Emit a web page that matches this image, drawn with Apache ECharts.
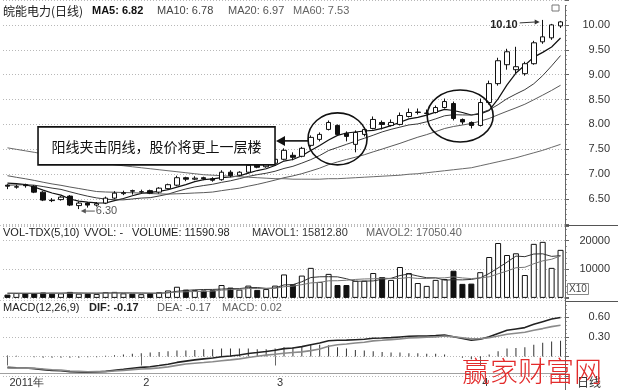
<!DOCTYPE html>
<html>
<head>
<meta charset="utf-8">
<script src="https://cdn.jsdelivr.net/npm/echarts@6/dist/echarts.min.js"></script>
<style>
  html, body { margin: 0; padding: 0; background: #fff; }
  #chart { width: 618px; height: 390px; }
</style>
</head>
<body>
<div id="chart"></div>
<script>
// 皖能电力 daily bars, 2011-01-11 .. 2011-04-18
const dates = [
  '2011-01-11','2011-01-12','2011-01-13','2011-01-14','2011-01-17','2011-01-18','2011-01-19','2011-01-20',
  '2011-01-21','2011-01-24','2011-01-25','2011-01-26','2011-01-27','2011-01-28','2011-01-31',
  '2011-02-01','2011-02-09','2011-02-10','2011-02-11','2011-02-14','2011-02-15','2011-02-16','2011-02-17',
  '2011-02-18','2011-02-21','2011-02-22','2011-02-23','2011-02-24','2011-02-25','2011-02-28',
  '2011-03-01','2011-03-02','2011-03-03','2011-03-04','2011-03-07','2011-03-08','2011-03-09','2011-03-10',
  '2011-03-11','2011-03-14','2011-03-15','2011-03-16','2011-03-17','2011-03-18','2011-03-21','2011-03-22',
  '2011-03-23','2011-03-24','2011-03-25','2011-03-28','2011-03-29','2011-03-30','2011-03-31',
  '2011-04-01','2011-04-06','2011-04-07','2011-04-08','2011-04-11','2011-04-12','2011-04-13','2011-04-14',
  '2011-04-15','2011-04-18'
];

const open = [6.78,6.74,6.79,6.76,6.64,6.48,6.49,6.56,6.37,6.42,6.38,6.42,6.52,6.61,6.67,6.64,6.67,6.64,6.71,6.78,
  6.93,6.90,6.93,6.91,6.89,7.04,6.98,7.04,7.18,7.15,7.22,7.30,7.38,7.36,7.58,7.70,7.90,7.98,7.82,7.60,
  7.80,7.92,8.04,7.98,8.00,8.16,8.24,8.22,8.24,8.34,8.42,8.10,8.04,7.98,8.44,8.82,9.20,9.10,9.02,9.22,
  9.66,9.74,9.98];
const close = [6.76,6.75,6.77,6.64,6.48,6.47,6.54,6.38,6.42,6.38,6.41,6.52,6.62,6.63,6.66,6.65,6.62,6.72,6.79,6.93,
  6.90,6.92,6.91,6.88,7.04,6.97,7.04,7.18,7.14,7.22,7.30,7.48,7.34,7.52,7.74,7.80,8.04,7.80,7.76,7.84,
  7.90,8.10,8.00,8.04,8.18,8.24,8.25,8.23,8.34,8.46,8.12,8.05,7.98,8.44,8.82,9.28,9.46,9.16,9.22,9.64,
  9.76,10.00,10.06];
const low = [6.70,6.71,6.73,6.62,6.46,6.44,6.47,6.36,6.30,6.33,6.35,6.40,6.50,6.58,6.59,6.61,6.60,6.61,6.69,6.76,
  6.86,6.88,6.88,6.85,6.87,6.94,6.96,7.02,7.12,7.13,7.20,7.28,7.28,7.34,7.55,7.66,7.88,7.78,7.66,7.44,
  7.76,7.90,7.90,7.96,7.98,8.14,8.20,8.20,8.22,8.32,8.08,8.00,7.92,7.96,8.40,8.78,9.10,9.02,8.98,9.20,
  9.62,9.70,9.94];
const high = [6.80,6.79,6.81,6.78,6.66,6.52,6.56,6.58,6.45,6.44,6.44,6.55,6.66,6.67,6.69,6.69,6.69,6.74,6.81,6.97,
  6.95,6.96,6.95,6.94,7.08,7.08,7.06,7.21,7.22,7.25,7.33,7.52,7.44,7.55,7.78,7.84,8.08,8.00,7.86,7.88,
  7.94,8.16,8.08,8.10,8.24,8.32,8.32,8.30,8.38,8.52,8.46,8.12,8.06,8.52,8.88,9.34,9.52,9.56,9.26,9.68,
  10.10,10.02,10.08];

const ma5 = [6.82,6.81,6.792,6.744,6.68,6.622,6.58,6.502,6.458,6.438,6.426,6.422,6.47,6.512,6.568,6.616,6.636,6.656,
  6.688,6.742,6.792,6.852,6.89,6.908,6.93,6.944,6.968,7.022,7.074,7.11,7.176,7.264,7.296,7.372,7.476,7.576,
  7.688,7.78,7.828,7.848,7.868,7.88,7.92,7.976,8.044,8.112,8.142,8.188,8.248,8.304,8.28,8.24,8.19,8.21,
  8.282,8.514,8.796,9.032,9.188,9.352,9.448,9.556,9.736];
const ma10 = [6.78,6.785,6.79,6.78,6.752,6.721,6.695,6.647,6.601,6.559,6.524,6.501,6.486,6.485,6.503,6.521,6.529,
  6.563,6.6,6.655,6.704,6.744,6.773,6.798,6.836,6.868,6.91,6.956,6.991,7.02,7.06,7.116,7.159,7.223,7.293,
  7.376,7.476,7.538,7.6,7.662,7.722,7.784,7.85,7.902,7.946,7.99,8.011,8.054,8.112,8.174,8.196,8.191,8.189,
  8.229,8.293,8.397,8.518,8.611,8.699,8.817,8.981,9.176,9.384];
const ma20 = [6.97,6.938,6.909,6.876,6.839,6.805,6.777,6.743,6.713,6.682,6.652,6.643,6.638,6.633,6.628,6.621,6.612,
  6.605,6.601,6.607,6.614,6.623,6.63,6.642,6.67,6.695,6.72,6.76,6.796,6.838,6.882,6.93,6.966,7.011,7.065,
  7.122,7.193,7.247,7.296,7.341,7.391,7.45,7.505,7.563,7.62,7.683,7.744,7.796,7.856,7.918,7.959,7.988,8.02,
  8.066,8.12,8.194,8.265,8.333,8.406,8.496,8.589,8.684,8.787];
const ma60 = [7.53,7.50,7.47,7.44,7.41,7.38,7.35,7.32,7.29,7.26,7.23,7.21,7.19,7.17,7.15,7.13,7.11,7.09,7.07,7.05,
  7.03,7.01,6.99,6.98,6.97,6.96,6.95,6.94,6.93,6.92,6.91,6.91,6.90,6.90,6.90,6.90,6.91,6.91,6.92,6.93,
  6.94,6.95,6.96,6.97,6.98,7.00,7.01,7.03,7.05,7.07,7.09,7.11,7.13,7.17,7.21,7.25,7.29,7.33,7.38,7.43,
  7.48,7.54,7.60];

// volume is plotted in units of 10 (the scale shows X10)
const volScale = 10;
const volume = [1159.098,1700,1600,1700,1900,1500,1600,2100,1500,1600,1400,2000,2100,1600,1500,1300,1700,2000,2600,
  3900,2900,2700,2600,2700,4500,3600,2900,4300,2800,3100,4300,8200,4800,7800,10500,5600,8400,4500,4500,
  6000,6000,8700,7300,6300,10800,8700,5200,4200,6300,6600,9500,4900,5000,9000,14300,19200,15000,15600,
  8000,18900,19600,10500,16800];
const mavol1 = [1581.28,1581,1571,1567,1612,1680,1660,1760,1720,1660,1640,1720,1720,1740,1720,1700,1640,1620,1820,
  2300,2620,2820,2940,2960,3080,3220,3260,3600,3620,3340,3480,4540,4640,5640,7120,7380,7420,7360,6700,
  5800,5880,5940,6500,6860,7820,8360,7660,7040,7040,6200,6360,6300,6460,7000,8540,10480,12500,14620,
  14420,15340,15420,14520,14760];
const mavol2 = [1705.04,1685,1665,1650,1660,1631,1621,1666,1644,1636,1660,1690,1740,1730,1690,1670,1680,1670,1780,
  2010,2160,2230,2280,2390,2690,2920,3040,3270,3290,3210,3350,3900,4120,4630,5230,5430,5980,6000,6170,
  6460,6630,6680,6930,6780,6810,7120,6800,6770,6950,7010,7360,6980,6750,7020,7370,8420,9400,10540,
  10710,11940,12950,13510,14690];

const dif = [-0.166,-0.172,-0.175,-0.185,-0.200,-0.212,-0.218,-0.230,-0.235,-0.238,-0.236,-0.226,-0.210,-0.196,
  -0.180,-0.166,-0.155,-0.138,-0.118,-0.090,-0.070,-0.052,-0.036,-0.024,-0.004,0.008,0.024,0.046,0.060,
  0.076,0.094,0.120,0.130,0.150,0.180,0.205,0.240,0.248,0.250,0.256,0.262,0.278,0.282,0.287,0.298,0.308,
  0.312,0.312,0.318,0.326,0.300,0.275,0.248,0.262,0.300,0.352,0.400,0.420,0.440,0.490,0.530,0.570,0.595];
const dea = [-0.174,-0.177,-0.175,-0.180,-0.190,-0.202,-0.208,-0.220,-0.225,-0.233,-0.231,-0.231,-0.220,-0.211,
  -0.200,-0.191,-0.185,-0.173,-0.158,-0.135,-0.115,-0.102,-0.091,-0.079,-0.064,-0.052,-0.036,-0.014,0.005,
  0.021,0.034,0.050,0.060,0.070,0.090,0.115,0.155,0.178,0.190,0.206,0.217,0.238,0.247,0.257,0.268,0.283,
  0.287,0.292,0.298,0.311,0.300,0.285,0.268,0.272,0.285,0.312,0.340,0.355,0.370,0.400,0.425,0.455,0.475];
const macd = [0.016,0.01,0.00,-0.01,-0.02,-0.02,-0.02,-0.02,-0.02,-0.01,-0.01,0.01,0.02,0.03,0.04,0.05,0.06,0.07,
  0.08,0.09,0.09,0.10,0.11,0.11,0.12,0.12,0.12,0.12,0.11,0.11,0.12,0.14,0.14,0.16,0.18,0.18,0.17,0.14,0.12,
  0.10,0.09,0.08,0.07,0.06,0.06,0.05,0.05,0.04,0.04,0.03,0.00,-0.02,-0.04,-0.02,0.03,0.08,0.12,0.13,0.14,
  0.18,0.21,0.23,0.24];

// labelled ticks on the right-hand scales
const priceTicks = [6.5, 7, 7.5, 8, 8.5, 9, 9.5, 10];
const volTicks = [10000, 20000];
const macdTicks = [0.3, 0.6];

const LAT = '"Liberation Sans", Arial, sans-serif';
const CJK = '"Noto Sans CJK SC", sans-serif';

const hasTick = (list, v) => list.some(t => Math.abs(t - v) < 1e-6);
const monthStart = (i) => i === 0 || dates[i].slice(5, 7) !== dates[i - 1].slice(5, 7);

const candleData = dates.map((d, i) => [open[i], close[i], low[i], high[i]]);
const upStyle = { color: '#fff', borderColor: '#111', borderWidth: 1 };
const downStyle = { color: '#111', borderColor: '#111', borderWidth: 1 };
const volData = volume.map((v, i) => ({ value: v, itemStyle: close[i] < open[i] ? downStyle : upStyle }));

const L = 3, R = 53;
const grids = [
  { left: L, right: R, top: 0, height: 224 },
  { left: L, right: R, top: 226.4, height: 71.5 },
  { left: L, right: R, top: 297.4, height: 78.8 }
];

function xAxisFor(idx) {
  const last = idx === 2;
  return {
    type: 'category', gridIndex: idx, data: dates, boundaryGap: true,
    axisLine: { show: false },
    axisTick: {
      show: last, alignWithLabel: true, length: 9, lineStyle: { color: '#666' },
      interval: monthStart
    },
    axisLabel: {
      show: last, margin: 1, align: 'left', padding: [0, 0, 0, 2],
      color: '#333', fontSize: 11, fontFamily: LAT,
      interval: monthStart,
      formatter: (v, i) => i === 0 ? v.slice(0, 4) + '年' : String(+v.slice(5, 7))
    },
    splitLine: { show: false }
  };
}

function yAxisFor(idx, cfg, ticks, fmt) {
  return Object.assign({
    type: 'value', gridIndex: idx, position: 'right', scale: false,
    axisLine: { show: false },
    axisTick: { show: true, length: 4, lineStyle: { color: '#666' } },
    minorTick: { show: true, splitNumber: 5, length: 2, lineStyle: { color: '#999' } },
    axisLabel: {
      margin: 45, align: 'right', color: '#333', fontSize: 11, fontFamily: LAT,
      formatter: (v) => hasTick(ticks, v) ? fmt(v) : ''
    },
    splitLine: { show: true, lineStyle: { type: [1, 2], color: '#b8b8b8', width: 1 } }
  }, cfg);
}

const lineSeries = (name, data, xi, color, width) => ({
  name, type: 'line', data, xAxisIndex: xi, yAxisIndex: xi,
  showSymbol: false, symbol: 'none', silent: true,
  lineStyle: { color, width }, z: 3
});

const option = {
  animation: false,
  backgroundColor: '#fff',
  grid: grids,
  xAxis: [xAxisFor(0), xAxisFor(1), xAxisFor(2)],
  yAxis: [
    yAxisFor(0, { min: 6, max: 10.5, interval: 0.5 }, priceTicks, v => v.toFixed(2)),
    yAxisFor(1, { min: 0, max: 25000, interval: 10000 }, volTicks, v => String(v)),
    yAxisFor(2, { min: -0.3, max: 0.9, interval: 0.3 }, macdTicks, v => v.toFixed(2))
  ],
  series: [
    {
      name: 'K', type: 'candlestick', data: candleData, xAxisIndex: 0, yAxisIndex: 0,
      barWidth: 5, silent: true, z: 4,
      itemStyle: { color: '#fff', color0: '#111', borderColor: '#111', borderColor0: '#111', borderWidth: 1 }
    },
    lineSeries('MA5', ma5, 0, '#111', 1.2),
    lineSeries('MA10', ma10, 0, '#3a3a3a', 1),
    lineSeries('MA20', ma20, 0, '#5a5a5a', 1),
    lineSeries('MA60', ma60, 0, '#6a6a6a', 1),
    {
      name: 'VOL', type: 'bar', data: volData, xAxisIndex: 1, yAxisIndex: 1,
      barWidth: 6, silent: true, z: 2
    },
    lineSeries('MAVOL1', mavol1, 1, '#333', 1),
    lineSeries('MAVOL2', mavol2, 1, '#777', 1),
    {
      name: 'MACD', type: 'bar', data: macd, xAxisIndex: 2, yAxisIndex: 2,
      barWidth: 1, silent: true, itemStyle: { color: '#333' }, z: 2
    },
    lineSeries('DIF', dif, 2, '#222', 1.6),
    lineSeries('DEA', dea, 2, '#8a8a8a', 1.6)
  ]
};

const chart = echarts.init(document.getElementById('chart'), null, { renderer: 'canvas' });
chart.setOption(option);

// ---- annotations and panel headers ----
const px = (g, i, v) => chart.convertToPixel({ gridIndex: g }, [i, v]);
const W = 618, AX = 565;
const g = [];

function txt(x, y, text, style) {
  g.push({ type: 'text', x, y, silent: true, z: 20,
    style: Object.assign({ text, fontFamily: LAT, fontSize: 11, fill: '#111', verticalAlign: 'middle' }, style) });
}
function seg(x1, y1, x2, y2, stroke, w, dash) {
  g.push({ type: 'line', silent: true, z: 15,
    shape: { x1, y1, x2, y2 }, style: { stroke, lineWidth: w || 1, lineDash: dash || null } });
}

// panel separators, bottom rule and right scale line
seg(0, 225.5, AX, 225.5, '#c4c4c4', 1, [1, 2]);
seg(0, 300.5, AX, 300.5, '#c4c4c4', 1, [1, 2]);
seg(0, 373.5, AX, 373.5, '#a0a0a0', 1);
seg(AX, 225.5, W, 225.5, '#555', 1);
seg(AX, 301.5, W, 301.5, '#555', 1);
seg(AX + 0.5, 5, AX + 0.5, 390, '#666', 1);
g.push({ type: 'rect', silent: true, z: 15, shape: { x: 552, y: 5, width: 7, height: 6 },
  style: { fill: '#fff', stroke: '#777', lineWidth: 1 } });

// headers
const f2 = v => v.toFixed(2);
txt(3, 11, '皖能电力(日线)', { fontFamily: CJK, fontSize: 12, fill: '#222' });
txt(92, 11, 'MA5: ' + f2(ma5[0]), { fontWeight: 'bold', fill: '#111' });
txt(157, 11, 'MA10: ' + f2(ma10[0]), { fill: '#444' });
txt(228, 11, 'MA20: ' + f2(ma20[0]), { fill: '#555' });
txt(293, 11, 'MA60: ' + f2(ma60[0]), { fill: '#666' });

txt(3, 233, 'VOL-TDX(5,10)', { fill: '#222' });
txt(84, 233, 'VVOL: -', { fill: '#222' });
txt(132, 233, 'VOLUME: ' + f2(volume[0] * volScale), { fill: '#222' });
txt(252, 233, 'MAVOL1: ' + f2(mavol1[0] * volScale), { fill: '#333' });
txt(366, 233, 'MAVOL2: ' + f2(mavol2[0] * volScale), { fill: '#666' });

txt(3, 308, 'MACD(12,26,9)', { fill: '#222' });
txt(89, 308, 'DIF: ' + f2(dif[0]), { fontWeight: 'bold', fill: '#222' });
txt(157, 308, 'DEA: ' + f2(dea[0]), { fill: '#555' });
txt(222, 308, 'MACD: ' + f2(macd[0]), { fill: '#666' });

// volume scale marker
g.push({ type: 'rect', silent: true, z: 15, shape: { x: 567.5, y: 283.5, width: 21, height: 11 },
  style: { fill: '#fff', stroke: '#888', lineWidth: 1 } });
txt(578, 289.5, 'X' + volScale, { fontSize: 10, fill: '#444', align: 'center' });
txt(577, 382, '日线', { fontFamily: CJK, fontSize: 12, fill: '#333' });

// lowest low marker
const iLow = low.indexOf(Math.min(...low));
const pL = px(0, iLow, low[iLow]);
const ly = pL[1] + 2, lx = pL[0] + 2;
seg(lx + 3, ly, lx + 14, ly, '#555', 1);
g.push({ type: 'polygon', silent: true, z: 16,
  shape: { points: [[lx, ly], [lx + 5, ly - 2.5], [lx + 5, ly + 2.5]] }, style: { fill: '#555' } });
txt(lx + 15, ly, f2(low[iLow]), { fontSize: 11, fill: '#555' });

// highest high marker
const iHigh = high.indexOf(Math.max(...high));
const pH = px(0, iHigh, high[iHigh]);
const hx = pH[0] - 3, hy = pH[1] + 2;
seg(hx - 20, hy + 1, hx - 3, hy, '#333', 1);
g.push({ type: 'polygon', silent: true, z: 16,
  shape: { points: [[hx, hy], [hx - 5, hy - 2.5], [hx - 5, hy + 2.5]] }, style: { fill: '#333' } });
txt(hx - 22, hy + 3, f2(high[iHigh]), { fontSize: 11, fontWeight: 'bold', fill: '#222', align: 'right' });

// two highlighted patterns
const e1 = px(0, 37, 7.71);
const a50 = px(0, 50, 8.17), a51 = px(0, 51, 8.17);
const e2 = [a50[0] + 0.75 * (a51[0] - a50[0]), a50[1]];
[[e1, 29.5, 26], [e2, 33, 26]].forEach(([c, rx, ry]) => {
  g.push({ type: 'ellipse', silent: true, z: 18, shape: { cx: c[0], cy: c[1], rx, ry },
    style: { fill: null, stroke: '#111', lineWidth: 1.6 } });
});

// callout box with arrow pointing to the first pattern
const bxR = e1[0] - 29.5 - 33, bw = 237, bh = 38, by = e1[1] - 12;
g.push({ type: 'rect', silent: true, z: 18, shape: { x: bxR - bw, y: by, width: bw, height: bh },
  style: { fill: '#fff', stroke: '#111', lineWidth: 1.6 } });
txt(bxR - bw / 2, by + bh / 2 + 0.5, '阳线夹击阴线，股价将更上一层楼',
  { fontFamily: CJK, fontSize: 14, fill: '#111', align: 'center' });
const ay = e1[1] + 2;
seg(bxR + 8, ay, e1[0] - 29.5, ay, '#111', 1.6);
g.push({ type: 'polygon', silent: true, z: 19,
  shape: { points: [[bxR + 1, ay], [bxR + 10, ay - 5], [bxR + 10, ay + 5]] }, style: { fill: '#111' } });

// site mark
txt(462, 371, '赢家财富网', { fontFamily: CJK, fontSize: 28, fill: '#e32b2b', fontWeight: 300 });

chart.setOption({ graphic: { elements: g } });
</script>
</body>
</html>
